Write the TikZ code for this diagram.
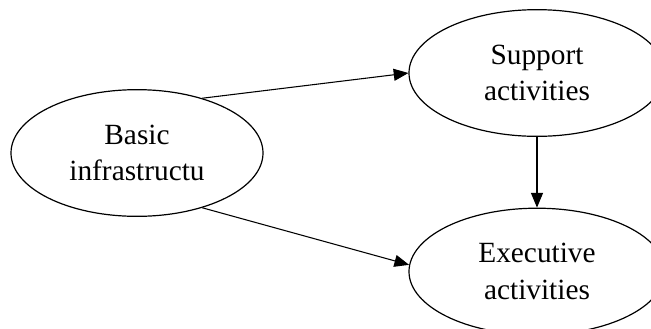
\documentclass[tikz,border=0pt]{standalone}
\usepackage{fontspec}
\setmainfont{Liberation Serif}
\usetikzlibrary{shapes.geometric, arrows.meta, positioning}
\tikzset{
	stage/.style   ={ellipse, draw=black, line width=0.9pt, minimum width=192pt, minimum height=95pt, align=center, inner sep=0pt},
	flowarrow/.style={-{Triangle[length=11pt, width=9pt]}, line width=0.8pt},
}
\begin{document}
\begin{tikzpicture}[x=0.75pt, y=0.75pt, font=\fontsize{22}{27.5}\selectfont]
	\useasboundingbox (0,0) rectangle (651,-329);
	\node[stage, minimum width=189pt] (basic) at (137,-153) {Basic\\infrastructu};
	\node[stage] (support) at (537,-73) {Support\\activities};
	\node[stage, below=53pt of support] (exec) {Executive\\activities};
	\draw[flowarrow] (basic.40) -- (support.west);
	\draw[flowarrow] (basic.-40) -- (exec.177);
	\draw[flowarrow] (support.south) -- (exec.north);
\end{tikzpicture}
\end{document}
